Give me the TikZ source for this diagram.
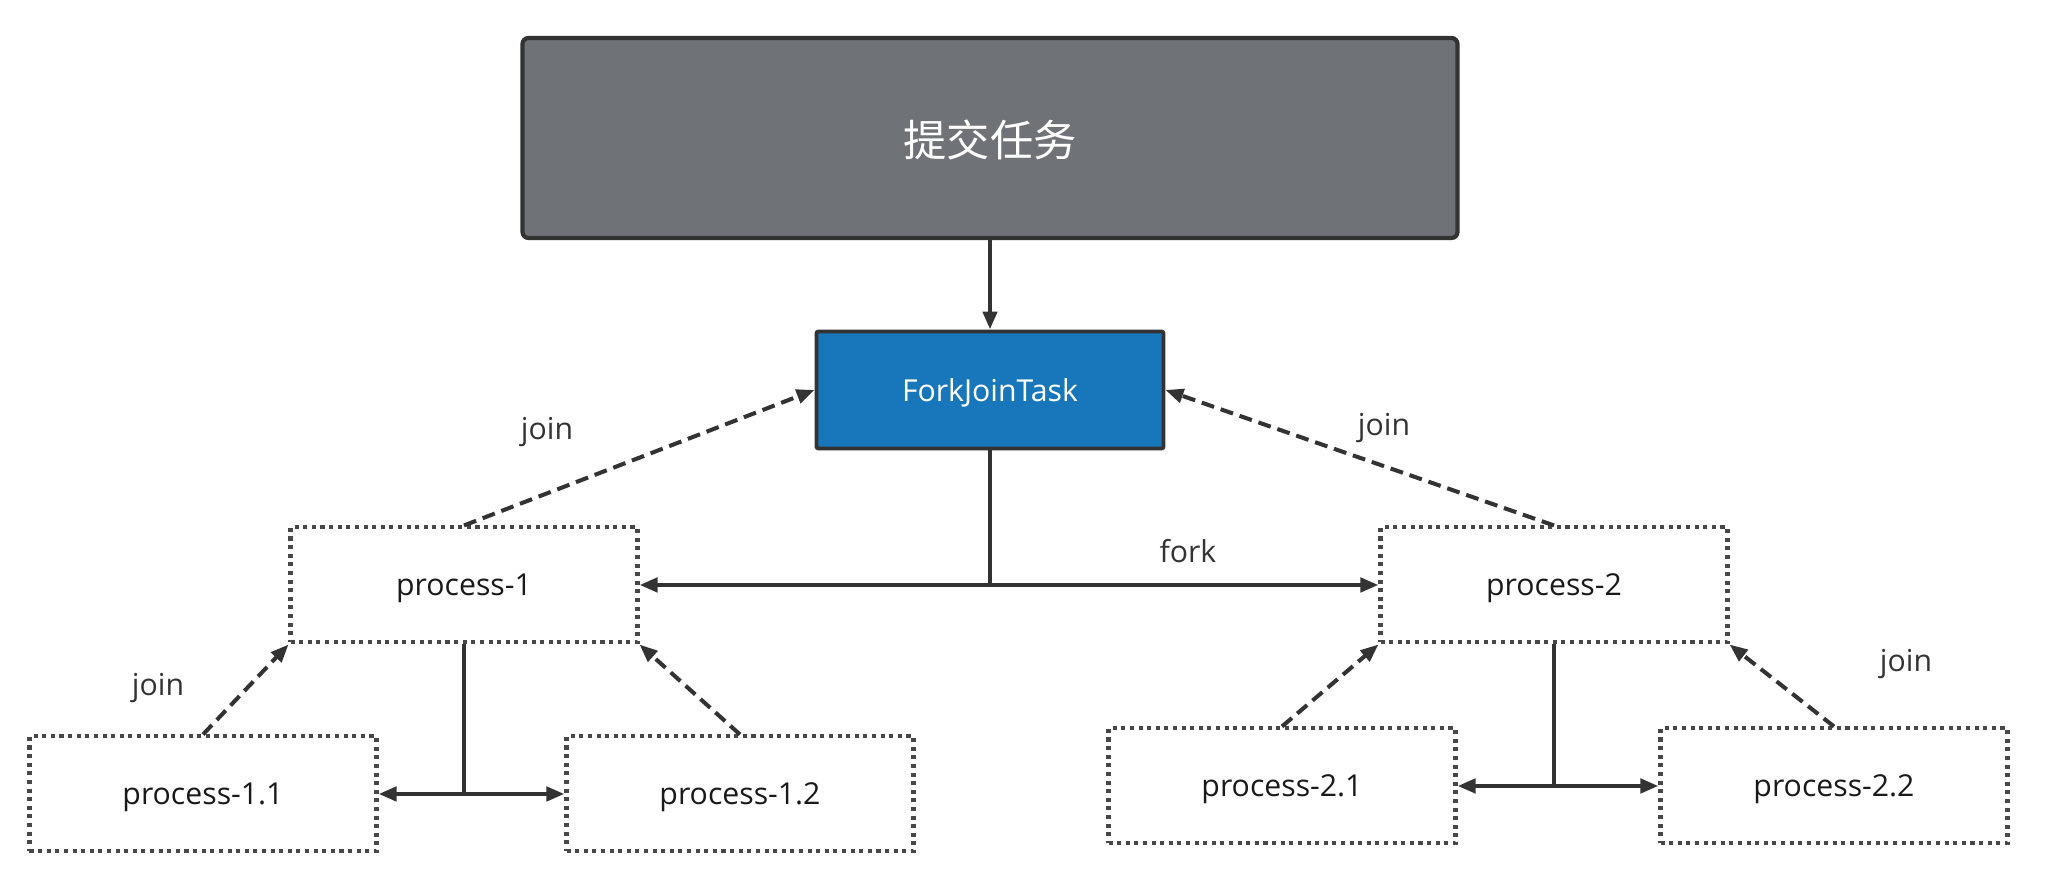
\documentclass[tikz,border=0pt]{standalone}
\usepackage{fontspec}
\setmainfont{Open Sans}
\newfontfamily\cjk{Noto Sans CJK SC}
\usetikzlibrary{arrows.meta}

\definecolor{linegray}{HTML}{333333}
\definecolor{taskgray}{HTML}{6F7378}
\definecolor{fjblue}{HTML}{1877BA}

\tikzset{
  tip/.style={-{Triangle[length=0.18cm,width=0.14cm]}},
  biarrow/.style={{Triangle[length=0.18cm,width=0.14cm]}-{Triangle[length=0.18cm,width=0.14cm]}},
  conn/.style={draw=linegray, line width=1.25pt},
  joinline/.style={conn, line width=1.15pt, dash pattern={on 0.13cm off 0.07cm}, tip},
  proc/.style={draw=linegray!90, line width=1.15pt, dash pattern={on 1.15pt off 1.3pt},
    minimum width=3.47cm, minimum height=1.15cm, inner sep=0pt, text depth=0pt,
    font=\fontsize{8.6}{10}\selectfont, text=black!90},
  lbl/.style={font=\fontsize{8.6}{10}\selectfont, text=linegray}
}

\begin{document}
\begin{tikzpicture}
  \useasboundingbox (0,0) rectangle (20.51,8.76);

  \node[draw=linegray, line width=1.2pt, fill=taskgray, rounded corners=0.06cm,
    minimum width=9.35cm, minimum height=2.0cm, text=white, text depth=0pt,
    font=\cjk\fontsize{12.3}{14}\selectfont] (task) at (9.90,7.38) {提交任务};
  \node[draw=linegray, line width=1.1pt, fill=fjblue, rounded corners=0.02cm,
    minimum width=3.47cm, minimum height=1.17cm, text=white, text depth=0pt,
    font=\fontsize{8.6}{10}\selectfont] (fjt) at (9.90,4.86) {ForkJoinTask};

  \node[proc] (p1) at (4.64,2.91) {process-1};
  \node[proc] (p2) at (15.54,2.91) {process-2};
  \node[proc] (p11) at (2.03,0.82) {process-1.1};
  \node[proc] (p12) at (7.40,0.82) {process-1.2};
  \node[proc] (p21) at (12.82,0.90) {process-2.1};
  \node[proc] (p22) at (18.34,0.90) {process-2.2};

  % submit
  \draw[conn, tip] (task.south) -- (fjt.north);

  % fork
  \coordinate (forkmid) at (fjt.south |- p1.east);
  \draw[conn] (fjt.south) -- (forkmid);
  \draw[conn, biarrow] (p1.east) -- (p2.west);
  \node[lbl] (forklbl) at (11.88,3.25) {fork};

  \coordinate (p1mid) at (p1.south |- p11.east);
  \draw[conn] (p1.south) -- (p1mid);
  \draw[conn, biarrow] (p11.east) -- (p12.west);

  \coordinate (p2mid) at (p2.south |- p21.east);
  \draw[conn] (p2.south) -- (p2mid);
  \draw[conn, biarrow] (p21.east) -- (p22.west);

  % join
  \draw[joinline] (p1.north) -- (fjt.west);
  \draw[joinline] (p2.north) -- (fjt.east);
  \draw[joinline] (p11.north) -- (p1.south west);
  \draw[joinline] (p12.north) -- (p1.south east);
  \draw[joinline] (p21.north) -- (p2.south west);
  \draw[joinline] (p22.north) -- (p2.south east);

  \node[lbl] (joinA) at (5.47,4.44) {join};
  \node[lbl] (joinB) at (13.84,4.48) {join};
  \node[lbl] (joinC) at (1.58,1.88) {join};
  \node[lbl] (joinD) at (19.06,2.12) {join};
\end{tikzpicture}
\end{document}
